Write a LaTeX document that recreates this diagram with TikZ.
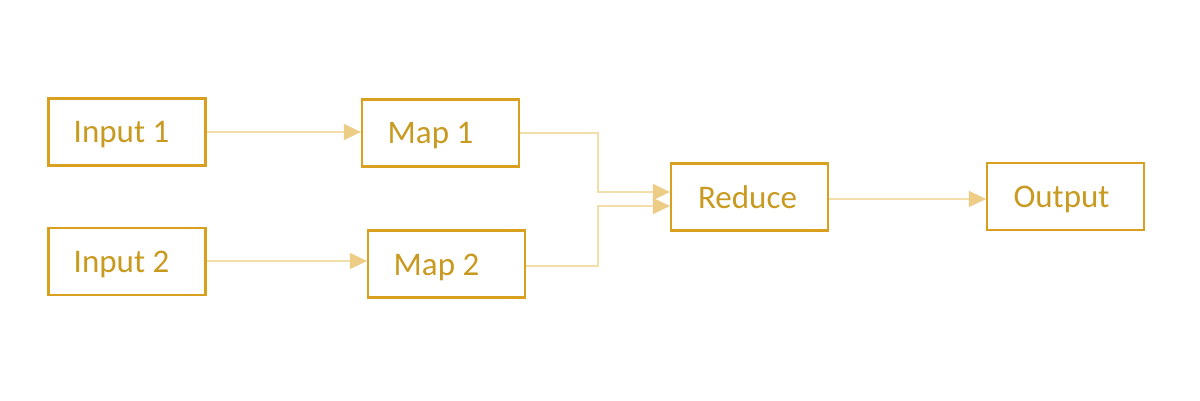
\documentclass[tikz,border=0pt]{standalone}
\usepackage{fontspec}
\setmainfont{Carlito}
\usetikzlibrary{arrows.meta}
\definecolor{boxline}{HTML}{D9A020}
\definecolor{boxtext}{HTML}{C99A20}
\definecolor{conn}{HTML}{F3DDA8}
\definecolor{tipc}{HTML}{EDCD85}
\begin{document}
\begin{tikzpicture}[x=1pt,y=-1pt,
  stagebox/.style={draw=boxline, line width=2.2pt, minimum width=157pt, minimum height=67pt,
    inner sep=0pt, text=boxtext, font=\fontsize{33}{38}\selectfont,
    text height=22pt, text depth=0pt},
  flow/.style={draw=conn, line width=1.6pt,
    -{Triangle[length=17pt,width=16pt,color=tipc,fill=tipc]}}]
\useasboundingbox (0,0) rectangle (1200,401);
\fill[white] (0,0) rectangle (1200,401);
\node[stagebox] (i1) at (127,132) {\hspace*{-11pt}Input 1};
\node[stagebox] (i2) at (127,261.5) {\hspace*{-11pt}Input 2};
\node[stagebox] (m1) at (440.5,133) {\hspace*{-20pt}Map 1};
\node[stagebox] (m2) at (446.5,264) {\hspace*{-20pt}Map 2};
\node[stagebox] (r) at (749.5,197) {\hspace*{-4pt}Reduce};
\node[stagebox] (o) at (1065.5,196.5) {\hspace*{-8pt}Output};
\coordinate (bx) at (598,0);
\draw[flow] (i1.east) -- (i1.east -| m1.west);
\draw[flow] ([yshift=0.5pt]i2.east) -- ([yshift=0.5pt]i2.east -| m2.west);
\draw[flow] (m1.east) -- (m1.east -| bx) |- ([yshift=5pt]r.west);
\draw[flow] ([yshift=-2pt]m2.east) -- ([yshift=-2pt]m2.east -| bx) |- ([yshift=-9pt]r.west);
\draw[flow] ([yshift=-2pt]r.east) -- ([yshift=-2pt]r.east -| o.west);
\end{tikzpicture}
\end{document}
